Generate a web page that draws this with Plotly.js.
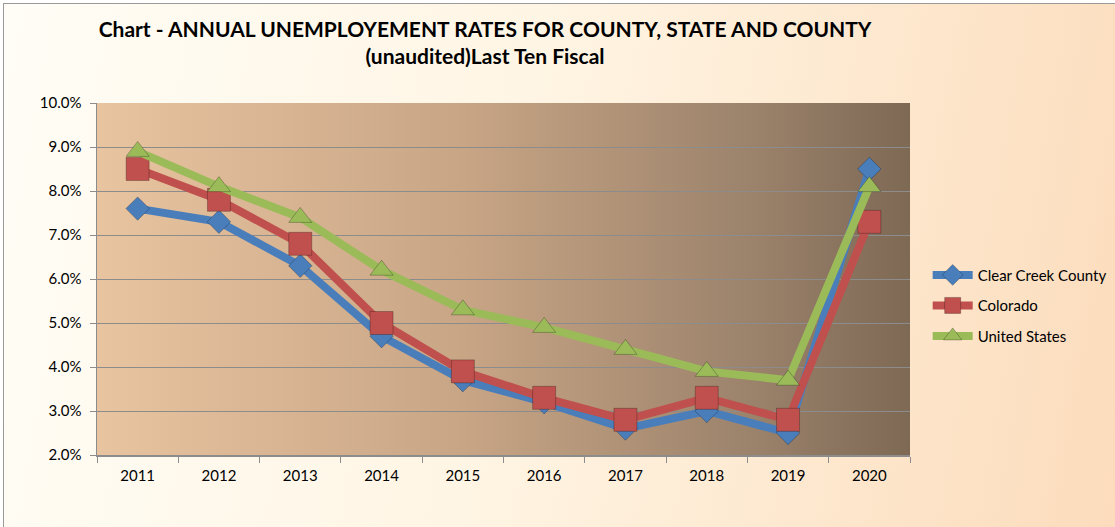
<!DOCTYPE html>
<html>
<head>
<meta charset="utf-8">
<script src="https://cdn.plot.ly/plotly-3.0.1.min.js"></script>
<style>
html,body{margin:0;padding:0;}
body{width:1115px;height:527px;overflow:hidden;background:#fff;}
#frame{position:absolute;left:3px;top:3px;width:1112px;height:524px;border-left:1px solid #9a9a9a;border-top:1px solid #9a9a9a;
background:linear-gradient(100deg,#fffdf6 0%,#fff5e4 45%,#fde5ca 80%,#fcdcbc 100%);}
#chart{position:absolute;left:0;top:0;width:1115px;height:527px;}
</style>
</head>
<body>
<div id="frame"></div>
<div id="chart"></div>
<script>
const years = ['2011','2012','2013','2014','2015','2016','2017','2018','2019','2020'];
const clearCreek = [7.6, 7.3, 6.3, 4.7, 3.7, 3.2, 2.6, 3.0, 2.5, 8.5];
const colorado   = [8.5, 7.8, 6.8, 5.0, 3.9, 3.3, 2.8, 3.3, 2.8, 7.3];
const unitedStates = [8.9, 8.1, 7.4, 6.2, 5.3, 4.9, 4.4, 3.9, 3.7, 8.1];
const yTicks = [2,3,4,5,6,7,8,9,10];

const gradSvg = '<svg xmlns="http://www.w3.org/2000/svg" width="100" height="100" preserveAspectRatio="none">' +
 '<defs><linearGradient id="g" x1="0" y1="0" x2="1" y2="0">' +
 '<stop offset="0" stop-color="#e8c4a0"/><stop offset="0.45" stop-color="#c8a585"/>' +
 '<stop offset="0.8" stop-color="#9c836c"/><stop offset="1" stop-color="#7e6955"/></linearGradient></defs>' +
 '<rect width="100" height="100" fill="url(#g)"/></svg>';
const gradUri = 'data:image/svg+xml;base64,' + btoa(gradSvg);

function series(name, y, color, symbol, size) {
  return {
    x: years, y: y, name: name, type: 'scatter', mode: 'lines+markers', legendgroup: name,
    line: {color: color, width: 8},
    marker: {symbol: symbol, size: size, color: color, line: {color: 'rgba(0,0,0,0.25)', width: 1}}
  };
}

const data = [
  series('Clear Creek County', clearCreek, '#4a7ebb', 'diamond', 18),
  series('Colorado', colorado, '#c0504d', 'square', 23),
  series('United States', unitedStates, '#9bbb59', 'triangle-up', 20)
];

const layout = {
  width: 1115, height: 527,
  margin: {l: 97, r: 205, t: 103, b: 72},
  paper_bgcolor: 'rgba(0,0,0,0)',
  plot_bgcolor: 'rgba(0,0,0,0)',
  font: {family: 'Lato, sans-serif', color: '#000', size: 15},
  title: {
    text: '<b>Chart - ANNUAL UNEMPLOYEMENT RATES FOR COUNTY, STATE AND COUNTY<br>(unaudited)Last Ten Fiscal</b>',
    xref: 'container', x: 0.435, xanchor: 'center',
    yref: 'paper', y: 1, yanchor: 'bottom', pad: {b: 66},
    font: {size: 21, family: 'Lato, sans-serif', color: '#000'}
  },
  xaxis: {
    type: 'category', range: [-0.5, 9.5],
    showgrid: false, showline: true, linecolor: '#8c8c8c', linewidth: 1.5,
    ticks: 'outside', tickson: 'boundaries', ticklen: 6, tickcolor: '#8c8c8c',
    tickfont: {size: 15}, zeroline: false, ticklabelstandoff: 6
  },
  yaxis: {
    range: [2, 10], tickvals: yTicks, ticktext: yTicks.map(v => v.toFixed(1) + '%'),
    showgrid: true, gridcolor: '#8c8c8c', gridwidth: 1,
    showline: true, linecolor: '#8c8c8c', linewidth: 1.5,
    ticks: 'outside', ticklen: 6, tickcolor: '#8c8c8c',
    tickfont: {size: 15}, zeroline: false, ticklabelstandoff: 5
  },
  legend: {
    xref: 'container', x: 0.832, xanchor: 'left', yref: 'container', y: 0.42, yanchor: 'middle',
    font: {size: 15}, bgcolor: 'rgba(0,0,0,0)', tracegroupgap: 8, itemwidth: 40
  },
  images: [{
    source: gradUri, xref: 'paper', yref: 'paper', x: 0, y: 1, sizex: 1, sizey: 1,
    sizing: 'stretch', layer: 'below', xanchor: 'left', yanchor: 'top'
  }],
  showlegend: true
};

Plotly.newPlot('chart', data, layout, {displayModeBar: false, staticPlot: true});
</script>
</body>
</html>
